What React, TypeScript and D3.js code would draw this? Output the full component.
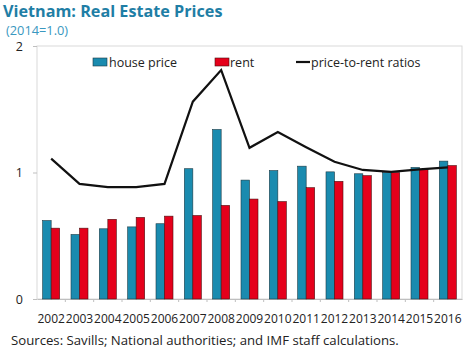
import { useEffect, useRef } from 'react';
import * as d3 from 'd3';

const years = ['2002', '2003', '2004', '2005', '2006', '2007', '2008', '2009', '2010', '2011', '2012', '2013', '2014', '2015', '2016'];
const housePrice = [0.62, 0.51, 0.555, 0.57, 0.595, 1.03, 1.34, 0.94, 1.015, 1.05, 1.005, 0.99, 1.0, 1.04, 1.09];
const rent = [0.56, 0.56, 0.63, 0.645, 0.655, 0.66, 0.74, 0.79, 0.77, 0.88, 0.93, 0.975, 1.0, 1.025, 1.055];
const ratio = [1.11, 0.91, 0.885, 0.885, 0.91, 1.56, 1.81, 1.195, 1.32, 1.2, 1.085, 1.02, 1.005, 1.025, 1.04];
const yTicks = [0, 1, 2];

const W = 469;
const H = 353;
const margin = { top: 46, right: 7, bottom: 54, left: 37 };
const font = '"Open Sans", "Noto Sans", sans-serif';
const blue = '#1A8BAF';
const red = '#E5001B';

const App = () => {
    const svgRef = useRef<SVGSVGElement>(null);

    useEffect(() => {
        const root = d3.select(svgRef.current);
        root.selectAll('*').remove();

        const w = W - margin.left - margin.right;
        const h = H - margin.top - margin.bottom;

        const x = d3.scaleBand().domain(years).range([0, w]);
        const y = d3.scaleLinear().domain([0, 2]).range([h, 0]);
        const barW = 8.5;

        // titles
        root.append('text')
            .attr('x', 3).attr('y', 17)
            .attr('font-family', font).attr('font-size', 16.2).attr('font-weight', 700)
            .attr('fill', '#1F7EA5')
            .text('Vietnam: Real Estate Prices');
        root.append('text')
            .attr('x', 6).attr('y', 35)
            .attr('font-family', font).attr('font-size', 12.8)
            .attr('fill', '#3A98C0')
            .text('(2014=1.0)');

        const g = root.append('g').attr('transform', `translate(${margin.left},${margin.top})`);

        // frame
        g.append('rect')
            .attr('x', 0).attr('y', 0).attr('width', w).attr('height', h)
            .attr('fill', 'none').attr('stroke', '#d9d9d9').attr('stroke-width', 1);

        // y axis
        const yAxis = g.append('g').call(d3.axisLeft(y).tickValues(yTicks).tickFormat(d3.format('d')).tickSize(4).tickPadding(10));
        yAxis.select('.domain').remove();
        yAxis.selectAll('line').attr('stroke', '#bfbfbf');
        yAxis.selectAll('text').attr('font-family', font).attr('font-size', 12.5).attr('fill', '#222');

        // x axis
        const xAxis = g.append('g').attr('transform', `translate(0,${h})`)
            .call(d3.axisBottom(x).tickSize(0).tickPadding(15));
        xAxis.select('.domain').attr('stroke', '#bfbfbf');
        xAxis.selectAll('text').attr('font-family', font).attr('font-size', 12).attr('fill', '#222');
        g.append('g').selectAll('line')
            .data(years.slice(1))
            .join('line')
            .attr('x1', d => x(d) ?? 0).attr('x2', d => x(d) ?? 0)
            .attr('y1', h).attr('y2', h + 3)
            .attr('stroke', '#bfbfbf');

        // bars
        g.append('g').selectAll('rect')
            .data(years)
            .join('rect')
            .attr('x', d => (x(d) ?? 0) + x.bandwidth() / 2 - barW)
            .attr('y', (_, i) => y(housePrice[i]))
            .attr('width', barW)
            .attr('height', (_, i) => h - y(housePrice[i]))
            .attr('fill', blue).attr('stroke', '#1c3a44').attr('stroke-width', 0.6);
        g.append('g').selectAll('rect')
            .data(years)
            .join('rect')
            .attr('x', d => (x(d) ?? 0) + x.bandwidth() / 2)
            .attr('y', (_, i) => y(rent[i]))
            .attr('width', barW)
            .attr('height', (_, i) => h - y(rent[i]))
            .attr('fill', red).attr('stroke', '#4a1010').attr('stroke-width', 0.6);

        // ratio line
        const line = d3.line<number>()
            .x((_, i) => (x(years[i]) ?? 0) + x.bandwidth() / 2)
            .y(d => y(d));
        g.append('path')
            .datum(ratio)
            .attr('d', line)
            .attr('fill', 'none').attr('stroke', '#111').attr('stroke-width', 2.2)
            .attr('stroke-linejoin', 'miter');

        // legend
        const lg = root.append('g').attr('font-family', font).attr('font-size', 12.5).attr('fill', '#222');
        lg.append('rect').attr('x', 93).attr('y', 58).attr('width', 14).attr('height', 8)
            .attr('fill', blue).attr('stroke', '#1c3a44').attr('stroke-width', 0.6);
        lg.append('text').attr('x', 109).attr('y', 67).text('house price');
        lg.append('rect').attr('x', 215).attr('y', 58).attr('width', 14).attr('height', 8)
            .attr('fill', red).attr('stroke', '#4a1010').attr('stroke-width', 0.6);
        lg.append('text').attr('x', 230).attr('y', 67).text('rent');
        lg.append('line').attr('x1', 296).attr('x2', 310).attr('y1', 62).attr('y2', 62)
            .attr('stroke', '#111').attr('stroke-width', 2.2);
        lg.append('text').attr('x', 311).attr('y', 67).text('price-to-rent ratios');

        // source
        root.append('text')
            .attr('x', 11).attr('y', 345)
            .attr('font-family', font).attr('font-size', 13.2).attr('fill', '#222')
            .text('Sources: Savills; National authorities; and IMF staff calculations.');
    }, []);

    return (
        <svg ref={svgRef} width={W} height={H} style={{ position: 'absolute', left: 0, top: 0, background: '#fff' }}></svg>
    );
};

export default App;
